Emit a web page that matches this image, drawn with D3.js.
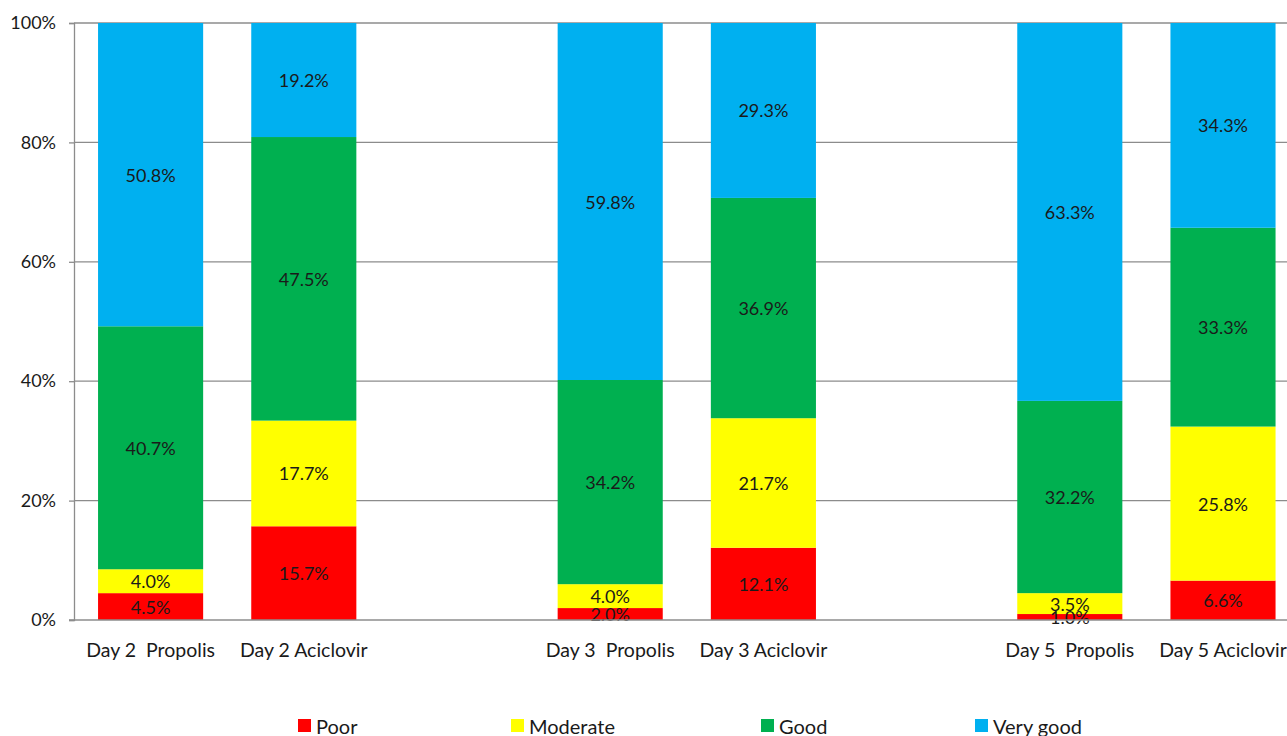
<!DOCTYPE html>
<html>
<head>
<meta charset="utf-8">
<script src="https://cdn.jsdelivr.net/npm/d3@7"></script>
<style>
  html, body { margin: 0; padding: 0; background: #fff; }
  svg { display: block; }
  text { font-family: Lato, "Open Sans", sans-serif; fill: #1a1a1a; }
</style>
</head>
<body>
<svg id="chart" width="1287" height="736"></svg>
<script>
// Slots along the x axis; null marks an empty spacer slot between days
const slots = ["Day 2  Propolis", "Day 2 Aciclovir", null,
               "Day 3  Propolis", "Day 3 Aciclovir", null,
               "Day 5  Propolis", "Day 5 Aciclovir"];
const categories = ["Day 2  Propolis", "Day 2 Aciclovir",
                    "Day 3  Propolis", "Day 3 Aciclovir",
                    "Day 5  Propolis", "Day 5 Aciclovir"];
const seriesNames = ["Poor", "Moderate", "Good", "Very good"];
const poor     = [4.5, 15.7, 2.0, 12.1, 1.0, 6.6];
const moderate = [4.0, 17.7, 4.0, 21.7, 3.5, 25.8];
const good     = [40.7, 47.5, 34.2, 36.9, 32.2, 33.3];
const veryGood = [50.8, 19.2, 59.8, 29.3, 63.3, 34.3];
const yTicks = [0, 20, 40, 60, 80, 100];
const colors = ["#FF0000", "#FFFF00", "#00B050", "#00B0F0"];

const seriesValues = [poor, moderate, good, veryGood];
const table = categories.map((c, i) => {
  const row = { cat: c };
  seriesNames.forEach((s, k) => row[s] = seriesValues[k][i]);
  return row;
});

const svg = d3.select("#chart");
const plotLeft = 74, plotTop = 23, plotBottom = 620;

const x = d3.scaleBand()
  .domain(d3.range(slots.length))
  .range([plotLeft, plotLeft + 153.2 * slots.length])
  .paddingInner(0.314)
  .paddingOuter(0.157);

const y = d3.scaleLinear().domain([0, 100]).range([plotBottom, plotTop]);

// gridlines
svg.append("g").selectAll("line")
  .data(yTicks.filter(t => t > 0))
  .join("line")
  .attr("x1", plotLeft).attr("x2", 1287)
  .attr("y1", d => y(d)).attr("y2", d => y(d))
  .attr("stroke", "#8c8c8c").attr("stroke-width", 1.3);

// y axis
const yAxis = svg.append("g").attr("transform", `translate(${plotLeft},0)`)
  .call(d3.axisLeft(y).tickValues(yTicks).tickFormat(d => d + "%").tickSize(5).tickPadding(13));
yAxis.select(".domain").attr("stroke", "#8c8c8c").attr("stroke-width", 1.3);
yAxis.selectAll(".tick line").attr("stroke", "#8c8c8c").attr("stroke-width", 1.3);
yAxis.selectAll(".tick text").style("font-size", "18px").style("font-family", "Lato, sans-serif").attr("fill", "#1a1a1a");

const stack = d3.stack().keys(seriesNames);
const layers = stack(table);
const slotOf = c => slots.indexOf(c);

const g = svg.append("g");
layers.forEach((layer, k) => {
  g.append("g").selectAll("rect")
    .data(layer)
    .join("rect")
    .attr("x", d => x(slotOf(d.data.cat)))
    .attr("width", x.bandwidth())
    .attr("y", d => y(Math.min(d[1], 100)))
    .attr("height", d => y(d[0]) - y(Math.min(d[1], 100)))
    .attr("fill", colors[k]);
});

// baseline (x axis)
svg.append("line")
  .attr("x1", plotLeft - 5).attr("x2", 1287)
  .attr("y1", plotBottom).attr("y2", plotBottom)
  .attr("stroke", "#8c8c8c").attr("stroke-width", 1.6);

// data labels, centred in each segment
layers.forEach((layer, k) => {
  g.append("g").selectAll("text")
    .data(layer)
    .join("text")
    .attr("x", d => x(slotOf(d.data.cat)) + x.bandwidth() / 2)
    .attr("y", d => y((d[0] + Math.min(d[1], 100)) / 2))
    .attr("text-anchor", "middle")
    .attr("dominant-baseline", "central")
    .style("font-size", "18px")
    .text(d => (d[1] - d[0]).toFixed(1) + "%");
});

// category labels
svg.append("g").selectAll("text")
  .data(categories)
  .join("text")
  .attr("x", c => x(slotOf(c)) + x.bandwidth() / 2)
  .attr("y", 649)
  .attr("text-anchor", "middle")
  .attr("dominant-baseline", "central")
  .style("font-size", "19.5px")
  .style("white-space", "pre")
  .text(c => c);

// legend
const legendX = [298, 511, 761, 975];
const legend = svg.append("g").selectAll("g")
  .data(seriesNames)
  .join("g")
  .attr("transform", (d, i) => `translate(${legendX[i]},726)`);
legend.append("rect")
  .attr("x", 0).attr("y", -7).attr("width", 13).attr("height", 13)
  .attr("fill", (d, i) => colors[i]);
legend.append("text")
  .attr("x", 18).attr("y", 0)
  .attr("dominant-baseline", "central")
  .style("font-size", "20px")
  .text(d => d);
</script>
</body>
</html>
